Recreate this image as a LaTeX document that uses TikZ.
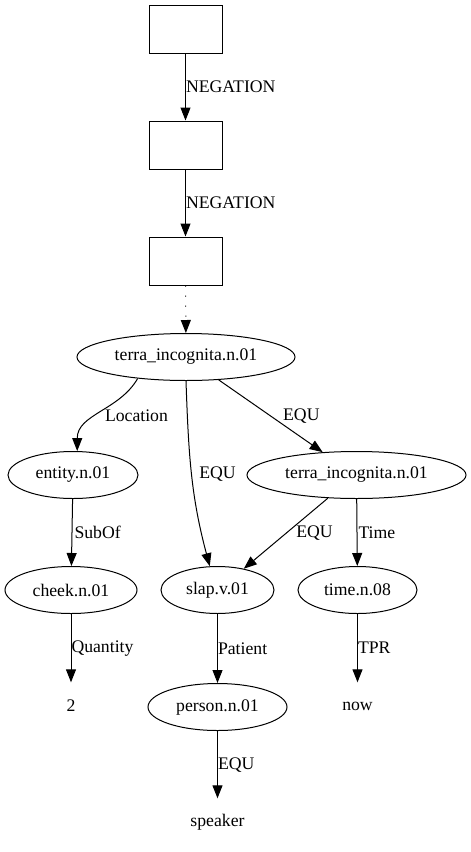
\documentclass[tikz,border=0pt]{standalone}
\usepackage{fontspec}
\setmainfont{Liberation Serif}
\usetikzlibrary{shapes,arrows.meta,positioning,calc}

\begin{document}
\begin{tikzpicture}[x=1pt, y=1pt,
    every node/.style={font=\fontsize{17.7}{21}\selectfont},
    drs/.style={draw, line width=1pt, rectangle, minimum width=73pt, minimum height=48pt, inner sep=0pt},
    sense/.style={draw, line width=1pt, ellipse, minimum height=47pt, inner sep=0pt},
    const/.style={minimum height=47pt, inner sep=0pt},
    rel/.style={line width=1pt, -{Triangle[length=13pt, width=10pt]}},
    lbl/.style={anchor=west, inner sep=0pt, pos=.5}]
    \useasboundingbox (0,0) rectangle (471,-852);

    % Boxes
    \node[drs] (k1) at (185.5,-29) {};
    \node[drs] (k2) at (185.5,-145) {};
    \node[drs] (k3) at (185.5,-261) {};

    % Senses
    \node[sense, minimum width=218pt] (ti1) at (186,-357) {terra\_incognita.n.01};
    \node[sense, minimum width=130pt] (ent) at (73,-475) {entity.n.01};
    \node[sense, minimum width=219pt] (ti2) at (356.5,-475) {terra\_incognita.n.01};
    \node[sense, minimum width=132pt] (cheek) at (71,-590) {cheek.n.01};
    \node[sense, minimum width=113pt] (slap) at (217.5,-590) {slap.v.01};
    \node[sense, minimum width=119pt] (time) at (357.5,-590) {time.n.08};
    \node[sense, minimum width=139pt] (pers) at (217.5,-707) {person.n.01};

    % Constants
    \node[const] (two) at (71,-706) {2};
    \node[const] (now) at (357.5,-706) {now};
    \node[const] (spk) at (217.5,-822) {speaker};

    % Relations
    \draw[rel] (k1) -- node[lbl] {NEGATION} (k2);
    \draw[rel] (k2) -- node[lbl] {NEGATION} (k3);
    \draw[rel, dash pattern=on 1pt off 9pt] (k3) -- (ti1);
    \draw[rel] (ti1.204) to[out=240, in=90] node[lbl, xshift=4pt, yshift=-3pt] {Location} (ent.80);
    \draw[rel] (ti1.south) to[out=-88, in=105] node[lbl, xshift=7pt] {EQU} (slap.108);
    \draw[rel] (ti1.-35) -- node[lbl, xshift=12pt] {EQU} (ti2.146);
    \draw[rel] (ti2.219) -- node[lbl, xshift=10pt] {EQU} (slap.39);
    \draw[rel] (ti2) -- node[lbl, xshift=1pt] {Time} (time);
    \draw[rel] (ent) -- node[lbl, xshift=2pt] {SubOf} (cheek);
    \draw[rel] (cheek) -- node[lbl] {Quantity} (two);
    \draw[rel] (slap) -- node[lbl] {Patient} (pers);
    \draw[rel] (time) -- node[lbl] {TPR} (now);
    \draw[rel] (pers) -- node[lbl] {EQU} (spk);
\end{tikzpicture}
\end{document}
